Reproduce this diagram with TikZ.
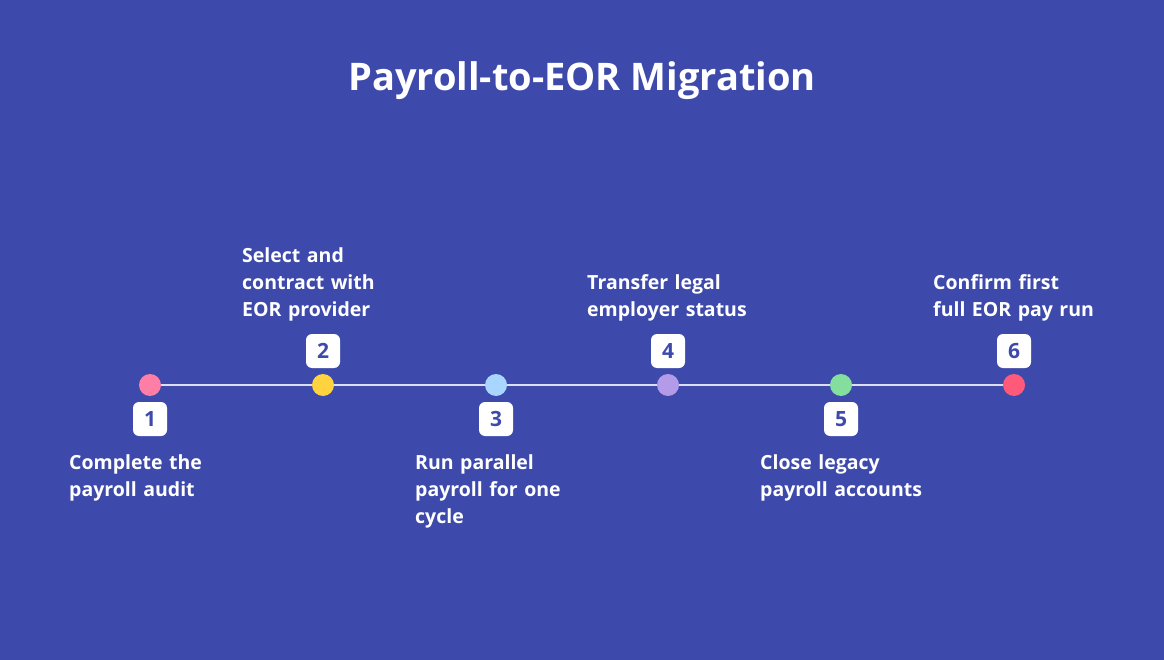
\documentclass[tikz,border=0pt]{standalone}
\usepackage{fontspec}
\setmainfont{Open Sans}
\usepackage{tikz}
\usetikzlibrary{backgrounds}

\definecolor{bgblue}{HTML}{3E4AAB}
\definecolor{linegray}{HTML}{DCDFF4}
\definecolor{dotpink}{HTML}{FF7EA6}
\definecolor{dotyellow}{HTML}{FFD23F}
\definecolor{dotsky}{HTML}{A8D6FF}
\definecolor{dotlilac}{HTML}{B49BE9}
\definecolor{dotgreen}{HTML}{84DE9E}
\definecolor{dotred}{HTML}{FF5A7A}

\tikzset{
  dot/.style={circle,minimum size=22pt,inner sep=0pt},
  numbox/.style={rectangle,rounded corners=6pt,fill=white,minimum size=34pt,inner sep=0pt,
    text=bgblue,font=\fontsize{21pt}{21pt}\selectfont\bfseries},
  steplabel/.style={text=white,align=left,text width=175pt,inner sep=0pt,
    font=\fontsize{19.5pt}{27pt}\selectfont\bfseries}
}

\begin{document}
\begin{tikzpicture}[x=1pt,y=-1pt]
      \useasboundingbox (0,0) rectangle (1164,660);
      \node[text=white,font=\fontsize{38pt}{38pt}\selectfont\bfseries] (title) at (582,81) {Payroll-to-EOR Migration};
      \node[dot,fill=dotpink] (dot1) at (150,385) {};
      \node[dot,fill=dotyellow] (dot2) at (323,385) {};
      \node[dot,fill=dotsky] (dot3) at (496,385) {};
      \node[dot,fill=dotlilac] (dot4) at (668,385) {};
      \node[dot,fill=dotgreen] (dot5) at (841,385) {};
      \node[dot,fill=dotred] (dot6) at (1014,385) {};
      \begin{pgfonlayer}{background}
      \fill[bgblue] (0,0) rectangle (1164,660);
      \draw[linegray,line width=2pt] (dot1) -- (dot6);
      \end{pgfonlayer}
      \node[numbox] (num1) at (150,419) {1};
      \node[numbox] (num2) at (323,351) {2};
      \node[numbox] (num3) at (496,419) {3};
      \node[numbox] (num4) at (668,351) {4};
      \node[numbox] (num5) at (841,419) {5};
      \node[numbox] (num6) at (1014,351) {6};
      \node[steplabel,anchor=north west] (lab1) at (69,454) {Complete the\\payroll audit};
      \node[steplabel,anchor=south west] (lab2) at (242,321) {Select and\\contract with\\EOR provider};
      \node[steplabel,anchor=north west] (lab3) at (415,454) {Run parallel\\payroll for one\\cycle};
      \node[steplabel,anchor=south west] (lab4) at (587,321) {Transfer legal\\employer status};
      \node[steplabel,anchor=north west] (lab5) at (760,454) {Close legacy\\payroll accounts};
      \node[steplabel,anchor=south west] (lab6) at (933,321) {Confirm first\\full EOR pay run};
\end{tikzpicture}
\end{document}
